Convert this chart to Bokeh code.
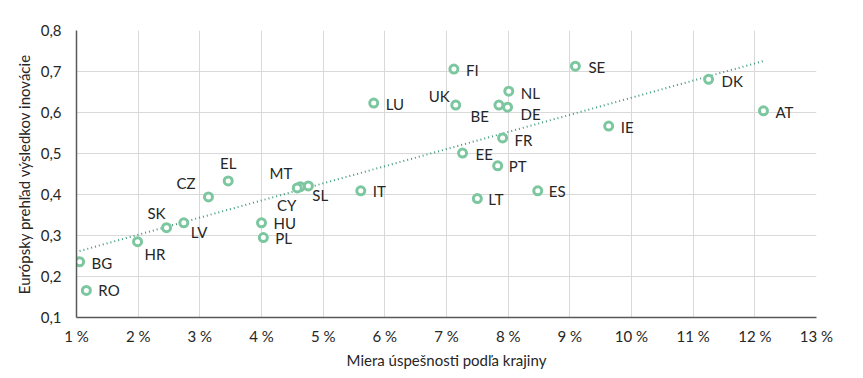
import numpy as np
from bokeh.plotting import figure
from bokeh.models import ColumnDataSource, FixedTicker, CustomJSTickFormatter, Range1d
from bokeh.core.properties import value
from bokeh.embed import file_html
from bokeh.resources import INLINE

# ---- data ----
countries = ["BG", "RO", "HR", "SK", "LV", "CZ", "EL", "MT", "CY", "SL", "HU", "PL",
             "IT", "LT", "ES", "LU", "FI", "UK", "BE", "DE", "NL", "FR", "EE", "PT",
             "SE", "IE", "DK", "AT"]
success_rate = [1.05, 1.16, 1.99, 2.46, 2.74, 3.14, 3.46, 4.63, 4.58, 4.76, 4.00, 4.03,
                5.61, 7.50, 8.48, 5.82, 7.12, 7.15, 7.85, 7.99, 8.01, 7.91, 7.26, 7.83,
                9.09, 9.63, 11.25, 12.14]
innovation = [0.236, 0.166, 0.285, 0.319, 0.331, 0.394, 0.433, 0.419, 0.416, 0.421, 0.331, 0.295,
              0.409, 0.390, 0.409, 0.623, 0.706, 0.618, 0.618, 0.613, 0.652, 0.538, 0.501, 0.470,
              0.713, 0.567, 0.681, 0.604]
x_ticks = [1, 2, 3, 4, 5, 6, 7, 8, 9, 10, 11, 12, 13]
y_ticks = [0.1, 0.2, 0.3, 0.4, 0.5, 0.6, 0.7, 0.8]

# ---- label placement (screen px offsets, styling only) ----
lab_dx = [12, 12, 7, -1, 7, -13, 0, -8, -1, 4, 12, 12,
          12, 11, 11, 12, 12, -6, -10, 13, 12, 12, 13, 11,
          13, 12, 13, 12]
lab_dy = [1, 0, 12, -15, 9, -14, -18, -14, 17, 9, 0, 0,
          0, 0, 0, 1, 1, -9, 11, 7, 2, 2, 1, 0,
          1, 1, 2, 1]
lab_align = ["left", "left", "left", "right", "left", "right", "center", "right", "right", "left",
             "left", "left", "left", "left", "left", "left", "left", "right", "right", "left",
             "left", "left", "left", "left", "left", "left", "left", "left"]

FONT = "Lato"
TXT = "#262626"
FS = "15px"

p = figure(width=847, height=362, output_backend="svg", toolbar_location=None,
           x_range=Range1d(1, 13), y_range=Range1d(0.1, 0.8),
           min_border_left=76, min_border_right=31, min_border_top=30, min_border_bottom=45)
p.frame_width = 740
p.frame_height = 287
p.outline_line_color = None
p.background_fill_color = "white"
p.border_fill_color = "white"

# grid
p.xgrid.ticker = FixedTicker(ticks=x_ticks)
p.ygrid.ticker = FixedTicker(ticks=y_ticks)
p.xgrid.grid_line_color = "#d9d9d9"
p.ygrid.grid_line_color = "#d9d9d9"
p.xgrid.grid_line_width = 1
p.ygrid.grid_line_width = 1

# axes
p.xaxis.ticker = FixedTicker(ticks=x_ticks)
p.yaxis.ticker = FixedTicker(ticks=y_ticks)
p.xaxis.formatter = CustomJSTickFormatter(code="return tick.toFixed(0) + ' %';")
p.yaxis.formatter = CustomJSTickFormatter(code="return tick.toFixed(1).replace('.', ',');")
for ax in (p.xaxis[0], p.yaxis[0]):
    ax.major_tick_line_color = None
    ax.minor_tick_line_color = None
    ax.major_tick_out = 0
    ax.major_tick_in = 0
    ax.minor_tick_out = 0
    ax.minor_tick_in = 0
    ax.axis_line_color = "#595959"
    ax.axis_line_width = 1.5
    ax.major_label_text_font = FONT
    ax.major_label_text_font_size = FS
    ax.major_label_text_color = TXT
    ax.axis_label_text_font = FONT
    ax.axis_label_text_font_size = FS
    ax.axis_label_text_color = TXT
    ax.axis_label_text_font_style = "normal"
p.xaxis.major_label_standoff = 9
p.yaxis.major_label_standoff = 15
p.xaxis.axis_label = "Miera úspešnosti podľa krajiny"
p.yaxis.axis_label = "Európsky prehľad výsledkov inovácie"
p.xaxis.axis_label_standoff = 3
p.yaxis.axis_label_standoff = 5

# trendline (least squares over the data)
slope, intercept = np.polyfit(success_rate, innovation, 1)
tx = [min(success_rate), max(success_rate)]
ty = [slope * v + intercept for v in tx]
p.line(tx, ty, line_color="#3f9a7c", line_width=2, line_dash="1 3")

src = ColumnDataSource(dict(x=success_rate, y=innovation, name=countries,
                            dx=lab_dx, dy=lab_dy, align=lab_align))
p.scatter("x", "y", source=src, size=8, fill_color="white", line_color="#7cc79f", line_width=3)
p.text("x", "y", text="name", source=src, x_offset="dx", y_offset="dy",
       text_align="align", text_baseline="middle",
       text_font=value(FONT), text_font_size=FS, text_color=TXT)

open("out.html", "w").write(file_html(p, INLINE))
